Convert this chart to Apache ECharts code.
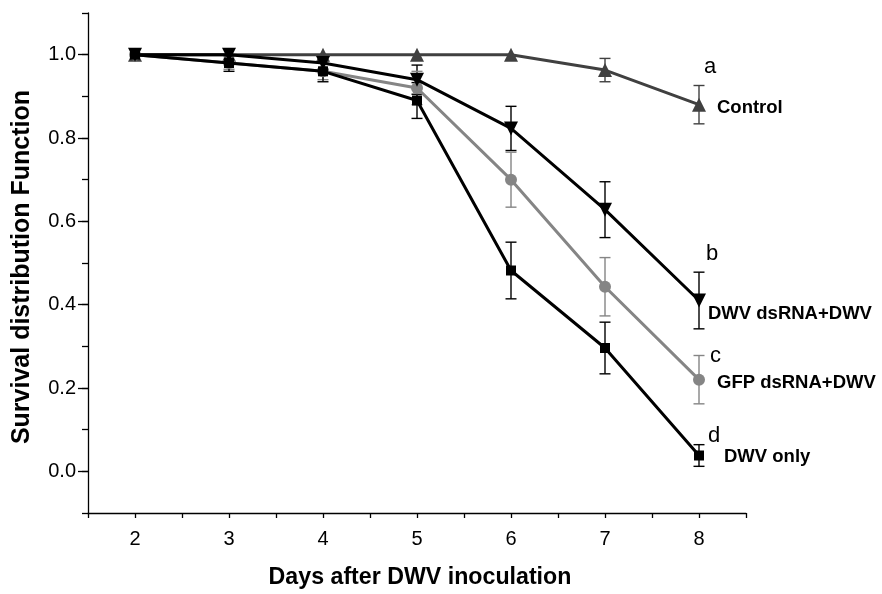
<!DOCTYPE html>
<html>
<head>
<meta charset="utf-8">
<script src="https://cdn.jsdelivr.net/npm/echarts@6/dist/echarts.min.js"></script>
<style>
html,body{margin:0;padding:0;background:#fff;}
#chart{width:882px;height:594px;}
</style>
</head>
<body>
<div id="chart"></div>
<script>
// ---- data ----
var days = [2, 3, 4, 5, 6, 7, 8];
var controlVals  = [1.0, 1.0, 1.0, 1.0, 1.0, 0.963, 0.88];
var controlErr   = [0, 0, 0, 0, 0, 0.028, 0.046];
var dsDwvVals    = [1.0, 1.0, 0.98, 0.94, 0.823, 0.628, 0.41];
var dsDwvErr     = [0, 0, 0.015, 0.035, 0.053, 0.067, 0.068];
var gfpVals      = [1.0, 0.98, 0.96, 0.92, 0.70, 0.443, 0.22];
var gfpErr       = [0, 0.015, 0.02, 0.04, 0.066, 0.07, 0.058];
var dwvOnlyVals  = [1.0, 0.98, 0.96, 0.89, 0.482, 0.296, 0.038];
var dwvOnlyErr   = [0, 0.02, 0.025, 0.043, 0.068, 0.062, 0.026];
var groupNames   = ['Control', 'DWV dsRNA+DWV', 'GFP dsRNA+DWV', 'DWV only'];
var groupLetters = ['a', 'b', 'c', 'd'];
var xTitle = 'Days after DWV inoculation';
var yTitle = 'Survival distribution Function';
var yMajorTicks = [0, 0.2, 0.4, 0.6, 0.8, 1.0];

// ---- styling ----
var colors = ['#404040', '#000000', '#858585', '#000000'];
var symbols = ['triangle', 'triangle', 'circle', 'rect'];
var symbolSizes = [14, 14, 12, 10];
var symbolRotates = [0, 180, 0, 0];
// offsets (px) of annotation texts relative to the last point
var letterOff = [[5, -38], [7, -47], [11, -24], [9, -20]];
var nameOff = [[18, 3.5], [9, 13.5], [18, 3.5], [25, 1]];

var allVals = [controlVals, dsDwvVals, gfpVals, dwvOnlyVals];
var allErr = [controlErr, dsDwvErr, gfpErr, dwvOnlyErr];
var FONT = 'Liberation Sans, Arial, sans-serif';

var chart = echarts.init(document.getElementById('chart'), null, {renderer: 'canvas'});

var series = [];
// error bars
allVals.forEach(function (vals, si) {
  var d = days.map(function (x, i) { return [x, vals[i], allErr[si][i]]; })
              .filter(function (r) { return r[2] > 0; });
  series.push({
    type: 'custom',
    xAxisIndex: 0, yAxisIndex: 0,
    z: 2,
    silent: true,
    data: d,
    renderItem: function (params, api) {
      var x = api.value(0), y = api.value(1), e = api.value(2);
      var top = api.coord([x, y + e]);
      var bot = api.coord([x, y - e]);
      var hw = 5.5;
      var st = {stroke: colors[si], lineWidth: 1.4};
      return {
        type: 'group',
        children: [
          {type: 'line', shape: {x1: top[0], y1: top[1], x2: bot[0], y2: bot[1]}, style: st},
          {type: 'line', shape: {x1: top[0] - hw, y1: top[1], x2: top[0] + hw, y2: top[1]}, style: st},
          {type: 'line', shape: {x1: bot[0] - hw, y1: bot[1], x2: bot[0] + hw, y2: bot[1]}, style: st}
        ]
      };
    }
  });
});
// lines (draw order: control, GFP, DWV only, DWV dsRNA)
[0, 2, 3, 1].forEach(function (si, k) {
  series.push({
    type: 'line',
    name: groupNames[si],
    xAxisIndex: 0, yAxisIndex: 0,
    z: 3 + k,
    data: days.map(function (x, i) { return [x, allVals[si][i]]; }),
    symbol: symbols[si],
    symbolSize: symbolSizes[si],
    symbolRotate: symbolRotates[si],
    showAllSymbol: true,
    lineStyle: {color: colors[si], width: 3},
    itemStyle: {color: colors[si], borderWidth: 0},
    emphasis: {disabled: true},
    animation: false
  });
});
// annotations at last point
series.push({
  type: 'custom',
  xAxisIndex: 0, yAxisIndex: 0,
  z: 10,
  silent: true,
  data: allVals.map(function (vals, si) { return [days[days.length - 1], vals[vals.length - 1], si]; }),
  renderItem: function (params, api) {
    var si = api.value(2);
    var p = api.coord([api.value(0), api.value(1)]);
    return {
      type: 'group',
      children: [
        {type: 'text', x: p[0] + letterOff[si][0], y: p[1] + letterOff[si][1],
         style: {text: groupLetters[si], font: 'normal 22px ' + FONT, fill: '#000', align: 'left', verticalAlign: 'middle'}},
        {type: 'text', x: p[0] + nameOff[si][0], y: p[1] + nameOff[si][1],
         style: {text: groupNames[si], font: 'bold 18.5px ' + FONT, fill: '#000', align: 'left', verticalAlign: 'middle'}}
      ]
    };
  }
});

var option = {
  backgroundColor: '#fff',
  animation: false,
  grid: {left: 88, right: 136, top: 13, bottom: 81},
  xAxis: [{
    type: 'value', min: 1.5, max: 8.5, interval: 0.5,
    axisLine: {show: true, onZero: false, lineStyle: {color: '#000', width: 1.3}},
    axisTick: {show: true, length: 5, lineStyle: {color: '#000', width: 1.3}},
    splitLine: {show: false},
    axisLabel: {
      margin: 16, color: '#000', fontSize: 20, fontFamily: FONT,
      formatter: function (v) { return Math.abs(v - Math.round(v)) < 1e-6 ? String(Math.round(v)) : ''; }
    }
  }],
  yAxis: [{
    type: 'value', min: -0.1, max: 1.1, interval: 0.1,
    axisLine: {show: true, onZero: false, lineStyle: {color: '#000', width: 1.3}},
    axisTick: {show: true, length: 6, lineStyle: {color: '#000', width: 1.3}},
    splitLine: {show: false},
    axisLabel: {
      margin: 12, color: '#000', fontSize: 20, fontFamily: FONT,
      formatter: function (v) {
        var k = Math.round(v * 10);
        return (k >= 0 && k % 2 === 0) ? (k / 10).toFixed(1) : '';
      }
    }
  }, {
    type: 'value', min: -0.1, max: 1.1, position: 'left', offset: 0,
    axisLine: {show: false},
    axisTick: {show: true, length: 10, customValues: yMajorTicks, lineStyle: {color: '#000', width: 1.3}},
    axisLabel: {show: false},
    splitLine: {show: false}
  }],
  graphic: [
    {type: 'text', x: 420, y: 578, style: {text: xTitle, font: 'bold 23.2px ' + FONT, fill: '#000', align: 'center', verticalAlign: 'middle'}},
    {type: 'text', x: 22, y: 267, rotation: Math.PI / 2, style: {text: yTitle, font: 'bold 25px ' + FONT, fill: '#000', align: 'center', verticalAlign: 'middle'}}
  ],
  series: series
};
chart.setOption(option);
</script>
</body>
</html>
